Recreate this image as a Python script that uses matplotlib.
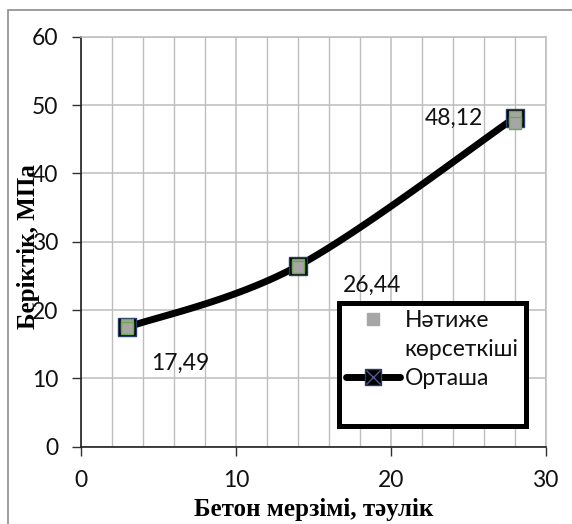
import numpy as np
import matplotlib
matplotlib.use("Agg")
import matplotlib.pyplot as plt
from matplotlib.lines import Line2D
from matplotlib.patches import Rectangle
from matplotlib.legend_handler import HandlerTuple

# ---- data ----
days = [3, 14, 28]
mean_strength = [17.49, 26.44, 48.12]
mean_labels = ["17,49", "26,44", "48,12"]
result_days = [3, 3, 14, 14, 28, 28]
result_strength = [17.8, 17.3, 26.6, 26.3, 48.3, 47.4]
x_ticks = [0, 10, 20, 30]
y_ticks = [0, 10, 20, 30, 40, 50, 60]
xlabel = "Бетон мерзімі, тәулік"
ylabel = "Беріктік, МПа"
leg_labels = ["Нәтиже\nкөрсеткіші", "Орташа"]

TICK_FONT = "Lato"
SERIF = "Liberation Serif"
FS = 16.5

def smooth(xs, ys, n=60):
    # Excel-like smoothed line (cardinal Bezier through the points)
    xs = np.asarray(xs, float); ys = np.asarray(ys, float)
    px = np.concatenate([[xs[0]], xs, [xs[-1]]])
    py = np.concatenate([[ys[0]], ys, [ys[-1]]])
    ox, oy = [], []
    t = np.linspace(0, 1, n)
    for i in range(1, len(px) - 2):
        p0 = np.array([px[i], py[i]]); p3 = np.array([px[i + 1], py[i + 1]])
        c1 = p0 + (np.array([px[i + 1], py[i + 1]]) - np.array([px[i - 1], py[i - 1]])) / 6
        c2 = p3 - (np.array([px[i + 2], py[i + 2]]) - np.array([px[i], py[i]])) / 6
        b = ((1 - t) ** 3)[:, None] * p0 + (3 * (1 - t) ** 2 * t)[:, None] * c1 \
            + (3 * (1 - t) * t ** 2)[:, None] * c2 + (t ** 3)[:, None] * p3
        ox.extend(b[:, 0]); oy.extend(b[:, 1])
    return ox, oy

W, H = 572, 524
fig = plt.figure(figsize=(W / 100, H / 100), dpi=100)
fig.patches.append(Rectangle((8 / W, -0.1), 1.2, 1 - 10 / H + 0.1,
                             transform=fig.transFigure, fill=False,
                             edgecolor="#8c8c8c", linewidth=1.2))
ax = fig.add_axes([81 / W, 1 - 446.7 / H, 464.5 / W, 410 / H])

ax.set_xlim(0, 30)
ax.set_ylim(0, 60)
ax.set_xticks(x_ticks)
ax.set_xticks(np.arange(0, 31, 2), minor=True)
ax.set_yticks(y_ticks)
grid_c = "#bdbdbd"
ax.grid(True, which="major", axis="both", color=grid_c, linewidth=1.1)
ax.grid(True, which="minor", axis="x", color=grid_c, linewidth=1.0)
ax.tick_params(axis="x", which="minor", length=0)
ax.tick_params(axis="both", which="major", direction="out", length=6.5,
               width=1, color="#303030", labelsize=FS, labelcolor="#111111")
ax.tick_params(axis="y", pad=10)
ax.tick_params(axis="x", pad=10)
for lab in ax.get_xticklabels() + ax.get_yticklabels():
    lab.set_fontfamily(TICK_FONT)
for s in ["left", "bottom"]:
    ax.spines[s].set_color("#202020")
    ax.spines[s].set_linewidth(1.2)
for s in ["top", "right"]:
    ax.spines[s].set_color(grid_c)
    ax.spines[s].set_linewidth(1.1)
ax.set_axisbelow(True)

sx, sy = smooth(days, mean_strength)
ax.plot(sx, sy, color="black", linewidth=5, solid_capstyle="round", zorder=3)
ax.plot(days, mean_strength, linestyle="none", marker="s", markersize=13,
        markerfacecolor="black", markeredgecolor="#2a3a6a", markeredgewidth=1, zorder=4)
ax.plot(result_days, result_strength, linestyle="none", marker="s", markersize=9,
        markerfacecolor="#a6a6a6", markeredgecolor="#6aa84f", markeredgewidth=1, zorder=5)

offsets = [(53, -36), (74, -19), (-61, 0)]
for x, y, t, off in zip(days, mean_strength, mean_labels, offsets):
    ax.annotate(t, (x, y), xytext=off, textcoords="offset pixels",
                ha="center", va="center", fontsize=FS, fontfamily=TICK_FONT,
                color="#111111", zorder=6)

ax.set_xlabel(xlabel, fontsize=18, fontweight="bold", fontfamily=SERIF,
              ha="center", va="center")
ax.set_ylabel(ylabel, fontsize=18, fontweight="bold", fontfamily=SERIF,
              ha="center", va="center")
ax.xaxis.set_label_coords(0.5, -0.154)
ax.yaxis.set_label_coords(-0.112, 0.488)

# legend (first series label wraps onto a second row, marker on the first row)
h1 = Line2D([], [], linestyle="none", marker="s", markersize=9,
            markerfacecolor="#a6a6a6", markeredgecolor="#a6a6a6")
h2 = Line2D([], [], color="black", linewidth=5, marker="s", markersize=12,
            markerfacecolor="black", markeredgecolor="#2a3a6a",
            solid_capstyle="round")
h2x = Line2D([], [], linestyle="none", marker="x", markersize=10,
             markeredgecolor="#4a5a90", markeredgewidth=1)
blank = Line2D([], [], linestyle="none")
first_lines = leg_labels[0].split("\n")
handles = [h1, blank, (h2, h2x), blank]
labels = [first_lines[0], first_lines[1], leg_labels[1], " "]
leg = ax.legend(handles, labels,
                handler_map={tuple: HandlerTuple(ndivide=1, pad=0)},
                loc="upper left", bbox_to_anchor=(339 / W, 1 - 303 / H),
                bbox_transform=fig.transFigure,
                prop={"family": TICK_FONT, "size": FS}, fancybox=False,
                framealpha=1, edgecolor="black", handlelength=2.35,
                handletextpad=0.22, labelspacing=0.36, borderpad=0.3,
                borderaxespad=0)
leg.get_frame().set_linewidth(3.6)
for t in leg.get_texts():
    t.set_color("#111111")
leg.set_zorder(7)

fig.savefig("out.png", dpi=100)
